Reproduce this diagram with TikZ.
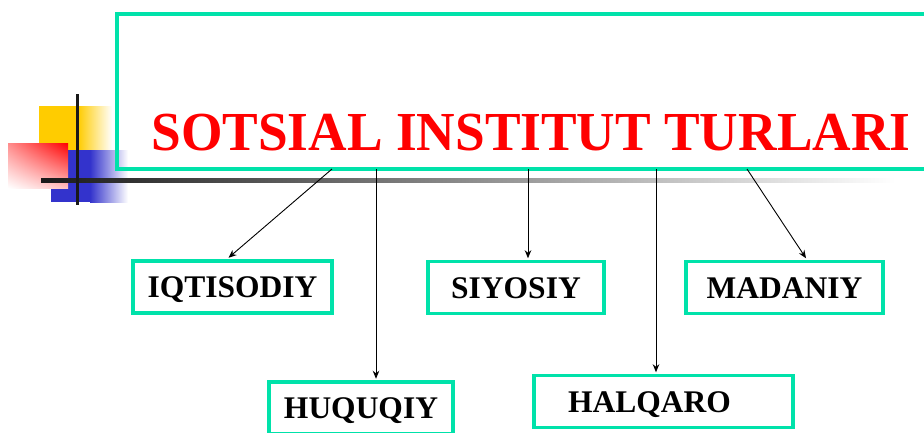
\documentclass[tikz,border=0pt]{standalone}
\usepackage{fontspec}
\setmainfont{Liberation Serif}
\usetikzlibrary{arrows.meta,calc,shadings}
\definecolor{tealc}{RGB}{0,226,170}
\definecolor{yellowc}{RGB}{255,204,0}
\definecolor{bluec}{RGB}{51,51,204}
\begin{document}
\begin{tikzpicture}[x=1pt,y=-1pt,
  mainbox/.style={draw=tealc,line width=4pt,rectangle,anchor=north west,inner sep=0pt},
  catbox/.style={draw=tealc,line width=3.5pt,rectangle,inner sep=0pt,minimum height=52pt,
    text height=21pt,text depth=0pt,
    font=\fontsize{31.5}{34}\selectfont\bfseries},
  conn/.style={draw=black,line width=0.9pt,-{Stealth[length=8pt,width=6.5pt]}}]
\useasboundingbox (0,0) rectangle (924,432);
\clip (0,0) rectangle (924,432);
% decoration
\fill[yellowc] (39,106) rectangle (78,152);
\shade[left color=yellowc,right color=white] (78,106) rectangle (112,152);
\fill[bluec] (51,150) rectangle (90,202);
\shade[left color=bluec,right color=white] (90,150) rectangle (128,202);
\shade[upper left=red!45,upper right=red,lower left=white,lower right=red!25] (8,143) rectangle (68,188);
\shade[left color=black!90,right color=white] (41,178) rectangle (895,182);
\fill[black!90] (75.5,94) rectangle (79,205);
% main box
\node[mainbox,minimum width=815pt,minimum height=155pt] (main) at (115,12) {};
\node[anchor=base,text=red,font=\fontsize{55}{60}\selectfont\bfseries] (title) at (531,150)
  {\scalebox{0.97}[1]{SOTSIAL INSTITUT TURLARI}};
% category boxes
\node[catbox,minimum width=199pt] (iq) at (232.5,287) {IQTISODIY};
\node[catbox,minimum width=176pt] (si) at (516,287.5) {SIYOSIY};
\node[catbox,minimum width=197pt] (ma) at (784.5,287.5) {MADANIY};
\node[catbox,minimum width=184pt] (hu) at (361,408) {HUQUQIY};
\node[catbox,minimum width=259pt] (ha) at (663.5,401.5) {HALQARO\kern28pt\null};
% connector starts
\coordinate (cIQ) at (332,169);
\coordinate (cHU) at (376,169);
\coordinate (cSI) at (528,169);
\coordinate (cHA) at (656,169);
\coordinate (cMA) at (747,169);
\draw[conn] (cIQ) -- ($(iq.north)+(-4,-1.5)$);
\draw[conn] (cHU) -- ($(cHU |- hu.north)+(0,-1.5)$);
\draw[conn] (cSI) -- ($(cSI |- si.north)+(0,-1.5)$);
\draw[conn] (cHA) -- ($(cHA |- ha.north)+(0,-1.5)$);
\draw[conn] (cMA) -- ($(ma.north)+(21.5,-1.5)$);
\end{tikzpicture}
\end{document}
